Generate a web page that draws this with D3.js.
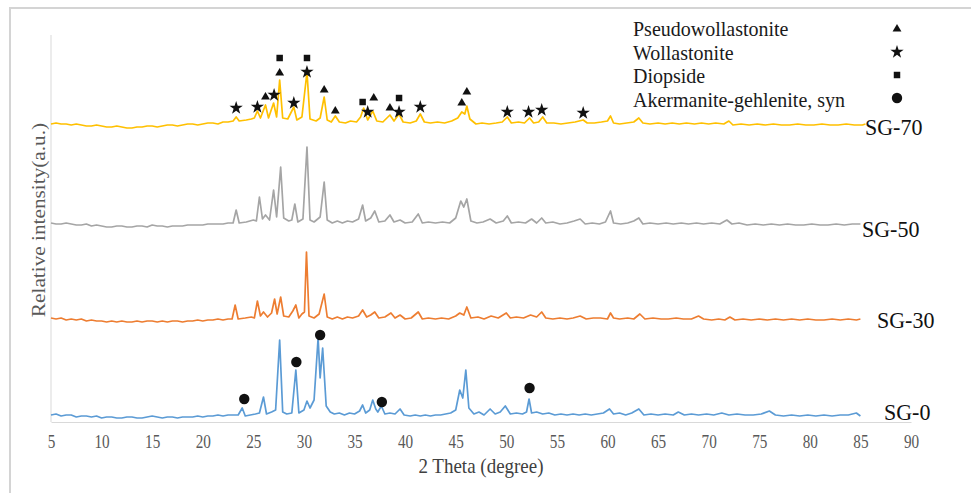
<!DOCTYPE html>
<html>
<head>
<meta charset="utf-8">
<script src="https://cdn.jsdelivr.net/npm/d3@7"></script>
<style>
  body { margin: 0; background: #fff; }
  text { font-family: "Liberation Serif", "Times New Roman", serif; }
</style>
</head>
<body>
<div id="chart"></div>
<script>
// XRD patterns: [2 theta (deg), intensity above the pattern's own baseline]
const sg0 = [[5,3],[5.5,4],[6,2],[6.5,3],[7,3],[7.5,1],[8,2],[8.5,2],[9,1],[9.5,2],[10,0],[10.5,1],[11,1],[11.5,0],[12,0],[12.5,1],[13,1],[13.5,0],[14,0],[14.5,1],[15,2],[15.5,1],[16,0],[16.5,1],[17,1],[17.5,0],[18,1],[18.5,1],[19,1],[19.5,2],[20,1],[20.5,2],[21,2],[21.5,3],[22,2],[22.5,3],[23,3],[23.5,3],[23.9,10],[24.2,2],[24.7,3],[25.2,4],[25.6,5],[26.0,21],[26.3,4],[26.8,6],[27.2,8],[27.6,78],[27.9,6],[28.3,4],[28.8,5],[29.2,48],[29.5,5],[30.0,8],[30.3,17],[30.6,10],[31.0,18],[31.4,80],[31.6,40],[31.85,70],[32.2,12],[32.6,6],[33.0,4],[33.5,5],[34.0,3],[34.5,5],[35.0,4],[35.5,7],[35.8,13],[36.1,5],[36.5,8],[36.8,18],[37.1,9],[37.3,6],[37.65,12],[38.0,4],[38.5,5],[39.0,4],[39.5,9],[39.9,3],[40.5,2],[41.0,3],[41.5,2],[42.0,3],[42.5,2],[43.0,3],[43.5,3],[44.0,4],[44.5,5],[45.0,8],[45.4,28],[45.7,20],[46.0,48],[46.3,10],[46.8,4],[47.3,6],[47.8,3],[48.4,9],[48.9,4],[49.4,6],[49.9,12],[50.4,4],[51.0,5],[51.6,4],[52.0,6],[52.25,19],[52.5,5],[53.0,6],[53.6,4],[54.2,5],[54.8,3],[55.4,4],[56.0,3],[56.6,4],[57.2,3],[57.8,4],[58.4,3],[59.0,4],[59.6,5],[60.2,9],[60.6,4],[61.2,5],[61.8,3],[62.4,5],[63.1,9],[63.6,3],[64.3,4],[65.0,3],[65.7,4],[66.5,3],[67.0,6],[67.6,3],[68.3,4],[69.0,3],[69.8,4],[70.5,3],[71.3,5],[72.0,3],[72.8,4],[73.6,3],[74.4,3],[75.2,4],[76.0,7],[76.6,3],[77.4,2],[78.2,3],[79.0,2],[79.8,3],[80.6,2],[81.4,3],[82.2,2],[83.0,3],[83.8,3],[84.6,5],[85.0,2]];

const sg30 = [[5,4],[5.5,3],[6,4],[6.5,2],[7,3],[7.5,2],[8,3],[8.5,1],[9,2],[9.5,1],[10,1],[10.5,0],[11,1],[11.5,0],[12,1],[12.5,0],[13,0],[13.5,1],[14,0],[14.5,1],[15,1],[15.5,0],[16,1],[16.5,0],[17,1],[17.5,1],[18,0],[18.5,1],[19,1],[19.5,2],[20,1],[20.5,2],[21,2],[21.5,3],[22,2],[22.5,3],[22.9,3],[23.2,17],[23.5,3],[24.2,4],[24.8,5],[25.1,4],[25.4,21],[25.7,6],[26.0,10],[26.4,5],[26.8,9],[27.1,23],[27.35,8],[27.7,25],[28.0,6],[28.5,5],[28.9,11],[29.2,17],[29.5,4],[29.8,8],[30.05,10],[30.25,70],[30.5,6],[31.0,4],[31.5,8],[32.0,28],[32.3,5],[32.8,3],[33.3,5],[33.8,3],[34.3,5],[34.8,4],[35.4,6],[35.8,12],[36.2,5],[36.6,7],[37.0,10],[37.4,4],[38.0,5],[38.6,9],[39.0,4],[39.5,7],[40.0,3],[40.6,4],[41.3,10],[41.7,3],[42.3,4],[43.0,3],[43.6,4],[44.3,3],[45.0,6],[45.4,9],[45.8,7],[46.1,15],[46.5,4],[47.2,5],[47.8,3],[48.5,6],[49.2,4],[50.0,9],[50.4,4],[51.0,5],[51.7,4],[52.4,7],[53.0,5],[53.5,10],[53.9,4],[54.6,3],[55.3,4],[56.0,3],[56.6,4],[57.3,6],[57.9,3],[58.6,4],[59.3,4],[60.0,3],[60.3,9],[60.6,4],[61.2,3],[62.0,4],[62.6,3],[63.2,8],[63.7,3],[64.5,4],[65.3,3],[66.0,3],[66.8,4],[67.5,3],[68.3,3],[69.0,6],[69.5,3],[70.3,2],[71.0,3],[71.6,2],[72.1,5],[72.6,2],[73.4,3],[74.2,2],[75.0,3],[75.8,2],[76.6,3],[77.4,2],[78.2,3],[79.0,2],[79.8,3],[80.6,2],[81.4,2],[82.2,3],[83.0,2],[83.8,3],[84.6,2],[85.0,3]];

const sg50 = [[5,4],[5.5,3],[6,3],[6.5,4],[7,3],[7.5,2],[8,2],[8.5,3],[9,1],[9.5,2],[10,1],[10.5,0],[11,0],[11.5,1],[12,1],[12.5,0],[13,0],[13.5,1],[14,1],[14.5,0],[15,2],[15.5,1],[16,1],[16.5,0],[17,1],[17.5,1],[18,1],[18.5,2],[19,2],[19.5,2],[20,2],[20.5,3],[21,3],[21.5,3],[22,3],[22.5,4],[23.0,4],[23.3,17],[23.6,4],[24.3,5],[25.0,7],[25.3,6],[25.6,30],[25.9,8],[26.2,12],[26.6,7],[27.0,37],[27.3,10],[27.7,60],[28.0,9],[28.5,6],[28.8,7],[29.1,23],[29.4,5],[29.9,8],[30.3,80],[30.6,7],[31.0,5],[31.6,10],[32.0,45],[32.3,7],[32.8,4],[33.3,6],[33.8,4],[34.3,6],[34.8,5],[35.4,8],[35.8,22],[36.1,6],[36.6,9],[37.0,16],[37.4,5],[38.0,6],[38.5,12],[38.9,5],[39.5,7],[40.0,4],[40.7,5],[41.3,13],[41.7,4],[42.3,5],[43.0,4],[43.7,5],[44.4,4],[45.0,9],[45.5,26],[45.8,20],[46.1,28],[46.5,6],[47.1,4],[47.7,5],[48.4,8],[49.0,4],[49.7,6],[50.1,11],[50.5,4],[51.2,5],[51.9,4],[52.5,8],[53.0,4],[53.5,9],[53.9,4],[54.6,5],[55.3,3],[56.0,4],[56.7,6],[57.3,8],[57.8,3],[58.5,4],[59.2,3],[59.8,5],[60.3,16],[60.6,4],[61.3,3],[62.0,4],[62.6,6],[63.1,9],[63.5,3],[64.2,4],[65.0,3],[65.8,4],[66.5,3],[67.3,4],[68.0,3],[68.8,4],[69.5,3],[70.3,4],[71.1,3],[71.8,7],[72.3,3],[73.0,4],[73.8,2],[74.6,3],[75.4,2],[76.2,3],[77.0,2],[77.8,3],[78.6,2],[79.4,2],[80.2,3],[81.0,2],[81.8,2],[82.6,3],[83.4,2],[84.2,3],[85.0,3]];

const sg70 = [[5,2],[5.5,3],[6,2],[6.5,2],[7,1],[7.5,2],[8,1],[8.5,0],[9,0],[9.5,1],[10,0],[10.5,-1],[11,-1],[11.5,0],[12,-1],[12.5,-2],[13,-2],[13.5,-1],[14,-1],[14.5,0],[15,0],[15.5,-1],[16,0],[16.5,1],[17,1],[17.5,0],[18,1],[18.5,2],[19,2],[19.5,1],[20,2],[20.5,3],[21,3],[21.5,2],[22,4],[22.5,4],[23.0,5],[23.3,9],[23.6,5],[24.3,6],[24.8,7],[25.1,8],[25.4,15],[25.7,8],[26.2,21],[26.5,8],[27.0,23],[27.3,9],[27.6,46],[27.9,8],[28.4,7],[29.0,19],[29.3,6],[29.8,9],[30.3,54],[30.6,7],[31.2,5],[31.6,8],[32.0,29],[32.3,6],[32.7,4],[33.1,10],[33.5,4],[34.1,3],[34.6,5],[35.2,4],[35.6,9],[35.9,18],[36.3,6],[36.8,15],[37.2,5],[37.8,4],[38.5,11],[38.9,5],[39.4,12],[39.8,4],[40.5,3],[41.1,5],[41.5,12],[41.9,4],[42.5,3],[43.2,4],[43.9,3],[44.6,5],[45.2,8],[45.6,14],[45.9,12],[46.1,20],[46.4,7],[47.0,2],[47.6,3],[48.3,2],[49.0,3],[49.6,4],[50.1,9],[50.5,3],[51.2,4],[51.8,3],[52.3,8],[52.7,3],[53.2,4],[53.6,9],[54.0,3],[54.7,3],[55.4,2],[56.1,3],[56.8,4],[57.6,6],[58.0,3],[58.7,3],[59.4,4],[60.0,5],[60.3,10],[60.6,3],[61.2,2],[61.9,3],[62.6,4],[63.1,8],[63.5,3],[64.2,2],[65.0,3],[65.7,2],[66.4,3],[67.1,2],[67.8,3],[68.6,2],[69.3,3],[70.0,2],[70.7,3],[71.5,2],[72.0,5],[72.4,1],[73.2,2],[74.0,1],[74.8,2],[75.6,1],[76.4,2],[77.2,1],[78.0,1],[78.8,2],[79.6,1],[80.4,1],[81.2,2],[82.0,1],[82.8,1],[83.6,2],[84.4,1],[85.2,1],[85.5,2]];

const sampleNames = ["SG-0", "SG-30", "SG-50", "SG-70"];
const sampleOffsets = [4, 100, 195, 296];
const xTicks = [5, 10, 15, 20, 25, 30, 35, 40, 45, 50, 55, 60, 65, 70, 75, 80, 85, 90];

// phase markers: [2 theta, height on the stacked intensity axis]
const phaseNames = ["Pseudowollastonite", "Wollastonite", "Diopside", "Akermanite-gehlenite, syn"];
const pseudoMarks = [[26.2,325],[27.6,349],[32.0,332],[33.1,311],[36.9,324],[38.5,314],[45.6,319],[46.1,330]];
const wollMarks = [[23.3,314],[25.4,315],[27.05,327],[29.0,319],[30.3,350],[36.3,310],[39.4,310],[41.5,315],[50.1,310],[52.2,310],[53.5,312],[57.6,309]];
const diopMarks = [[27.6,364],[30.3,364],[35.8,320],[39.4,324]];
const akerMarks = [[24.1,23],[29.25,60],[31.6,87],[37.7,20],[52.3,34]];

class XrdChart {
    constructor(element) {
        this.width = 971;
        this.height = 493;
        this.svg = d3.select(element).append("svg")
            .attr("width", this.width)
            .attr("height", this.height);
        this.x = d3.scaleLinear().domain([5, 90]).range([51, 911]);
        this.y = d3.scaleLinear().domain([0, 390]).range([422, 32]);
        this.colors = d3.scaleOrdinal().domain(sampleNames)
            .range(["#5b9bd5", "#ed7d31", "#a5a5a5", "#ffc000"]);
        this.symbols = [d3.symbolTriangle, d3.symbolStar, d3.symbolSquare, d3.symbolCircle];
        this.symbolSizes = [34, 55, 42, 85];
    }

    render() {
        const svg = this.svg, x = this.x, y = this.y;

        // outer frame (left and top edges only)
        svg.append("path")
            .attr("d", "M10,493V8H971")
            .attr("fill", "none")
            .attr("stroke", "#d4d4d4")
            .attr("stroke-width", 2);

        // x axis
        const xAxis = svg.append("g")
            .attr("transform", `translate(0, ${y(0)})`)
            .call(d3.axisBottom(x).tickValues(xTicks).tickSize(0).tickPadding(11));
        xAxis.select(".domain").attr("stroke", "#d9d9d9");
        xAxis.selectAll("text")
            .attr("fill", "#595959")
            .style("font-size", "16px")
            .attr("transform", "scale(0.95,1.18)");

        // y axis line
        svg.append("line")
            .attr("x1", x(5)).attr("x2", x(5))
            .attr("y1", y(0)).attr("y2", y(387))
            .attr("stroke", "#d9d9d9");

        svg.append("text")
            .attr("transform", `translate(${x(47.5)}, 473) scale(1,1.12)`)
            .attr("text-anchor", "middle")
            .attr("fill", "#404040")
            .style("font-size", "19px")
            .text("2 Theta (degree)");

        svg.append("text")
            .attr("transform", "translate(45, 220) rotate(-90) scale(1.12,1)")
            .attr("text-anchor", "middle")
            .attr("fill", "#595959")
            .style("font-size", "19px")
            .text("Relative intensity(a.u.)");

        // patterns
        const series = [sg0, sg30, sg50, sg70];
        const line = d3.line()
            .x(d => x(d[0]))
            .y(d => y(d[1]));
        series.forEach((pts, i) => {
            svg.append("path")
                .datum(pts.map(p => [p[0], p[1] + sampleOffsets[i]]))
                .attr("fill", "none")
                .attr("stroke", this.colors(sampleNames[i]))
                .attr("stroke-width", 1.7)
                .attr("stroke-linejoin", "round")
                .attr("d", line);
        });

        // sample labels
        const labelPos = {"SG-0": [884, -6], "SG-30": [877, -2], "SG-50": [862, 2], "SG-70": [865, 1]};
        svg.selectAll(".sample-label")
            .data(sampleNames)
            .enter()
            .append("text")
                .attr("class", "sample-label")
                .attr("transform", (d, i) => `translate(${labelPos[d][0]}, ${y(sampleOffsets[i]) + labelPos[d][1]}) scale(1,1.05)`)
                .attr("dy", "0.35em")
                .attr("fill", "#111")
                .style("font-size", "22px")
                .text(d => d);

        // phase markers on the peaks
        const markSets = [pseudoMarks, wollMarks, diopMarks, akerMarks];
        markSets.forEach((marks, i) => {
            svg.selectAll(null)
                .data(marks)
                .enter()
                .append("path")
                    .attr("transform", d => `translate(${x(d[0])}, ${y(d[1])})`)
                    .attr("d", d3.symbol(this.symbols[i], this.symbolSizes[i]))
                    .attr("fill", "#111");
        });

        // legend
        const legend = svg.append("g");
        phaseNames.forEach((name, i) => {
            legend.append("text")
                .attr("transform", `translate(633, ${36 + i * 23.5}) scale(1,1.1)`)
                .attr("fill", "#1a1a1a")
                .style("font-size", "20px")
                .text(name);
            legend.append("path")
                .attr("transform", `translate(897, ${29 + i * 23})`)
                .attr("d", d3.symbol(this.symbols[i], this.symbolSizes[i]))
                .attr("fill", "#111");
        });
    }
}

const chart = new XrdChart(document.getElementById("chart"));
chart.render();
</script>
</body>
</html>
